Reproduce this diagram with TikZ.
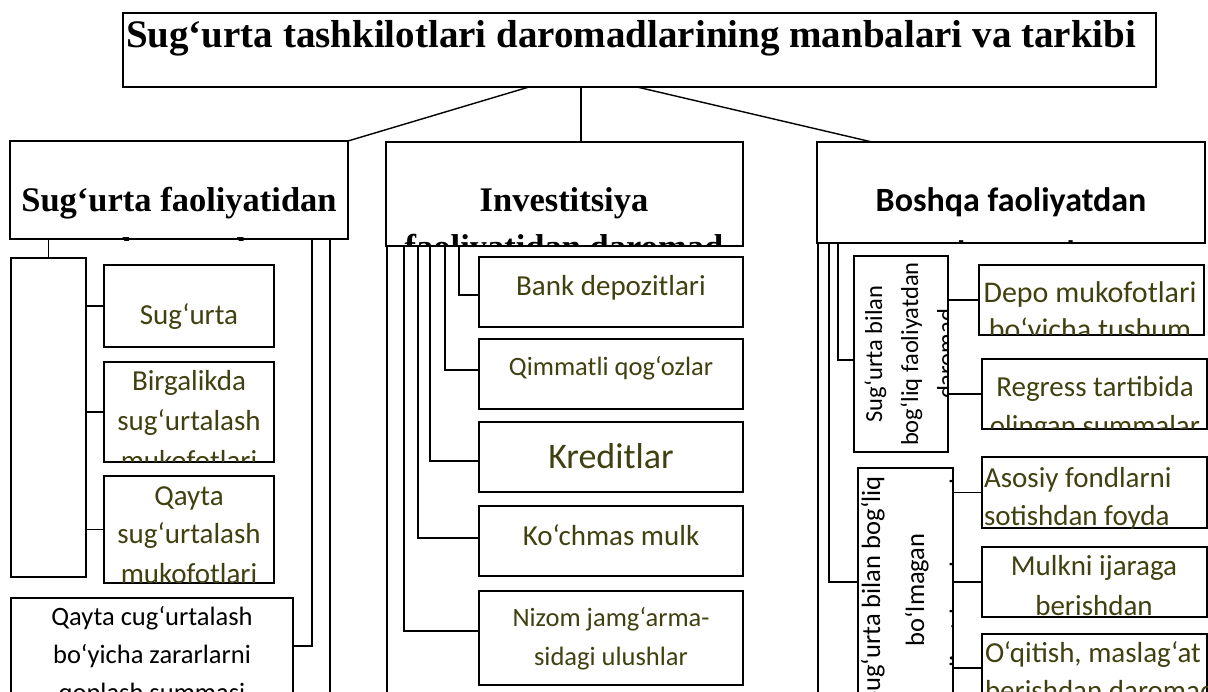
\documentclass[tikz,border=0pt]{standalone}
\usepackage{fontspec}
\setmainfont{Liberation Serif}
\newfontfamily\calfont{Carlito}
\definecolor{olivetext}{RGB}{64,64,16}
% multi-line text block whose baseline is that of its first line
\newcommand\linesbox[5][\centering]{\parbox[t]{#2}{#1\fontsize{#3}{#4}\selectfont #5}}

\begin{document}
\begin{tikzpicture}[x=1pt,y=-1pt,
  frame/.style={draw, line width=2pt, inner sep=0pt, outer sep=0pt, anchor=north west},
  wire/.style={line width=1.4pt},
  boxtxt/.style={inner sep=0pt, outer sep=0pt, anchor=base, text=olivetext, font=\calfont},
  darktxt/.style={boxtxt, text=black},
  headtxt/.style={inner sep=0pt, outer sep=0pt, anchor=base, text=black}]

\path[use as bounding box] (0,0) rectangle (1208,692);
\clip (0,0) rectangle (1208,692);

% ---------- title ----------
\node[frame, line width=2.2pt, minimum width=1033pt, minimum height=74pt] (title) at (123,13) {};
\node[headtxt, anchor=base west] (titletext) at (126,48)
  {\bfseries\fontsize{39}{46}\selectfont Sug‘urta tashkilotlari daromadlarining manbalari va tarkibi};

% ---------- three headings ----------
\node[frame, minimum width=338pt, minimum height=98pt]  (headL) at (10,141) {};
\node[frame, minimum width=357pt, minimum height=104pt] (headM) at (386,142) {};
\node[frame, minimum width=388pt, minimum height=101pt] (headR) at (817,142) {};

\begin{scope}
  \clip (headL.north west) rectangle ([yshift=-1.5pt]headL.south east);
  \node[headtxt] (headLtext) at (179,212) {\linesbox{330pt}{34.5}{50}{\bfseries Sug‘urta faoliyatidan\\daromad}};
\end{scope}
\begin{scope}
  \clip (headM.north west) rectangle (headM.south east);
  \node[headtxt] (headMtext) at (564,212) {\linesbox{350pt}{34.5}{47}{\bfseries Investitsiya\\faoliyatidan daromad}};
\end{scope}
\begin{scope}
  \clip (headR.north west) rectangle ([yshift=-1pt]headR.south east);
  \node[headtxt, font=\calfont] (headRtext) at (1011,212) {\linesbox{380pt}{34}{53}{\bfseries Boshqa faoliyatdan\\daromad}};
\end{scope}

% title to headings
\coordinate (tL) at (529,87);
\coordinate (tM) at (581,87);
\coordinate (tR) at (637,87);
\coordinate (hM) at (581,142);
\coordinate (hR) at (872,142);
\draw[wire] (tL) -- (headL.north east);
\draw[wire] (tM) -- (hM);
\draw[wire] (tR) -- (hR);

% ---------- left column ----------
\node[frame, minimum width=75pt,  minimum height=319pt] (blank) at (11,258) {};
\node[frame, minimum width=170pt, minimum height=82pt]  (lA) at (104,265) {};
\node[frame, minimum width=170pt, minimum height=100pt] (lB) at (104,362) {};
\node[frame, minimum width=170pt, minimum height=107pt] (lC) at (104,476) {};
\node[frame, minimum width=282pt, minimum height=96pt]  (lD) at (11,598) {};

\begin{scope}
  \clip (lA.north west) rectangle (lA.south east);
  \node[boxtxt] (lAtext) at (189,325) {\linesbox{200pt}{29}{40}{Sug‘urta}};
\end{scope}
\begin{scope}
  \clip (lB.north west) rectangle (lB.south east);
  \node[boxtxt] (lBtext) at (189,391) {\linesbox{200pt}{29}{40}{Birgalikda\\sug‘urtalash\\mukofotlari}};
\end{scope}
\begin{scope}
  \clip (lC.north west) rectangle (lC.south east);
  \node[boxtxt] (lCtext) at (189,505) {\linesbox{200pt}{29}{39}{Qayta\\sug‘urtalash\\mukofotlari}};
\end{scope}
\begin{scope}
  \clip (lD.north west) rectangle (lD.south east);
  \node[darktxt] (lDtext) at (152,625) {\linesbox{300pt}{26.5}{38}{Qayta cug‘urtalash\\bo‘yicha zararlarni\\qoplash summasi}};
\end{scope}

\coordinate (lj) at (312,239);
\coordinate (lk) at (330,239);
\coordinate (lkb) at (330,700);
\draw[wire] (blank.north) -- (blank.north |- headL.south);
\draw[wire] (lA.west) -- (lA.west -| blank.east);
\draw[wire] (lB.west) -- (lB.west -| blank.east);
\draw[wire] (lC.west) -- (lC.west -| blank.east);
\draw[wire] (lD.east) -| (lj);
\draw[wire] (lk) -- (lkb);

% ---------- middle column ----------
\node[frame, minimum width=264pt, minimum height=70pt] (bank)  at (479,257) {};
\node[frame, minimum width=264pt, minimum height=70pt] (secur) at (479,339) {};
\node[frame, minimum width=264pt, minimum height=70pt] (cred)  at (479,422) {};
\node[frame, minimum width=264pt, minimum height=70pt] (realt) at (479,506) {};
\node[frame, minimum width=264pt, minimum height=94pt] (fund)  at (479,591) {};

\begin{scope}
  \clip (bank.north west) rectangle (bank.south east);
  \node[boxtxt] (banktext) at (611,296) {\linesbox{260pt}{29}{40}{Bank depozitlari}};
\end{scope}
\begin{scope}
  \clip (secur.north west) rectangle (secur.south east);
  \node[boxtxt] (securtext) at (611,376) {\linesbox{260pt}{26.5}{38}{Qimmatli qog‘ozlar}};
\end{scope}
\begin{scope}
  \clip (cred.north west) rectangle (cred.south east);
  \node[boxtxt] (credtext) at (611,469) {\linesbox{260pt}{36}{44}{Kreditlar}};
\end{scope}
\begin{scope}
  \clip (realt.north west) rectangle (realt.south east);
  \node[boxtxt] (realttext) at (611,545) {\linesbox{260pt}{29}{40}{Ko‘chmas mulk}};
\end{scope}
\begin{scope}
  \clip (fund.north west) rectangle (fund.south east);
  \node[boxtxt] (fundtext) at (611,626) {\linesbox{260pt}{26.5}{39}{Nizom jamg‘arma-\\sidagi ulushlar}};
\end{scope}

\coordinate (m1) at (459,246);
\coordinate (m2) at (445,246);
\coordinate (m3) at (430,246);
\coordinate (m4) at (418,246);
\coordinate (m5) at (404,246);
\coordinate (m0) at (387,246);
\coordinate (m0b) at (387,700);
\draw[wire] ([yshift=-3pt]bank.west) -| (m1);
\draw[wire] ([yshift=4pt]secur.west) -| (m2);
\draw[wire] ([yshift=-4pt]cred.west) -| (m3);
\draw[wire] ([yshift=3pt]realt.west) -| (m4);
\draw[wire] ([yshift=7pt]fund.west) -| (m5);
\draw[wire] (m0) -- (m0b);

% ---------- right column ----------
\node[frame, minimum width=94pt, minimum height=196pt] (rotA) at (854,256) {};
\node[frame, minimum width=95pt, minimum height=228pt] (rotB) at (858,468) {};
\node[frame, minimum width=225pt, minimum height=70pt] (depo)  at (979,265) {};
\node[frame, minimum width=225pt, minimum height=70pt] (regr)  at (982,359) {};
\node[frame, minimum width=225pt, minimum height=71pt] (asset) at (982,457) {};
\node[frame, minimum width=225pt, minimum height=70pt] (lease) at (982,547) {};
\node[frame, minimum width=225pt, minimum height=68pt] (train) at (982,634) {};

\begin{scope}
  \clip (rotA.north west) rectangle (rotA.south east);
  \node[darktxt, rotate=90] (rotAtext) at (882,354) {\linesbox{200pt}{24.5}{36}{Sug‘urta bilan\\bog‘liq faoliyatdan\\daromad}};
\end{scope}
\begin{scope}
  \clip (rotB.north west) rectangle (rotB.south east);
  \node[darktxt, rotate=90] (rotBtext) at (880,590) {\linesbox{300pt}{26.5}{44}{Sug‘urta bilan bog‘liq\\bo‘lmagan\\faoliyatdan daromad}};
\end{scope}
\begin{scope}
  \clip (depo.north west) rectangle (depo.south east);
  \node[boxtxt] (depotext) at (1090,303) {\linesbox{240pt}{30}{37}{Depo mukofotlari\\bo‘yicha tushum}};
\end{scope}
\begin{scope}
  \clip (regr.north west) rectangle (regr.south east);
  \node[boxtxt] (regrtext) at (1095,397) {\linesbox{240pt}{29}{39}{Regress tartibida\\olingan summalar}};
\end{scope}
\begin{scope}
  \clip (asset.north west) rectangle (asset.south east);
  \node[boxtxt, anchor=base west] (assettext) at (984,487) {\linesbox[\raggedright]{240pt}{29}{38}{Asosiy fondlarni\\sotishdan foyda}};
\end{scope}
\begin{scope}
  \clip (lease.north west) rectangle (lease.south east);
  \node[boxtxt] (leasetext) at (1094,575) {\linesbox{240pt}{29}{40}{Mulkni ijaraga\\berishdan}};
\end{scope}
\begin{scope}
  \clip (train.north west) rectangle (train.south east);
  \node[boxtxt, anchor=base west] (traintext) at (985,662) {\linesbox[\raggedright]{240pt}{29}{38}{O‘qitish, maslag‘at\\berishdan daromad}};
\end{scope}

\coordinate (r1) at (838,243);
\coordinate (r2) at (829,243);
\coordinate (r0) at (818,243);
\coordinate (r0b) at (818,700);
\draw[wire] ([yshift=-6pt]rotA.west) -| (r1);
\draw[wire] (rotB.west) -| (r2);
\draw[wire] (r0) -- (r0b);
\draw[wire] (depo.west)  -- (depo.west -| rotA.east);
\draw[wire] (regr.west)  -- (regr.west -| rotA.east);
\draw[wire] (asset.west) -- (asset.west -| rotB.east);
\draw[wire] (lease.west) -- (lease.west -| rotB.east);
\draw[wire] (train.west) -- (train.west -| rotB.east);
\end{tikzpicture}
\end{document}
